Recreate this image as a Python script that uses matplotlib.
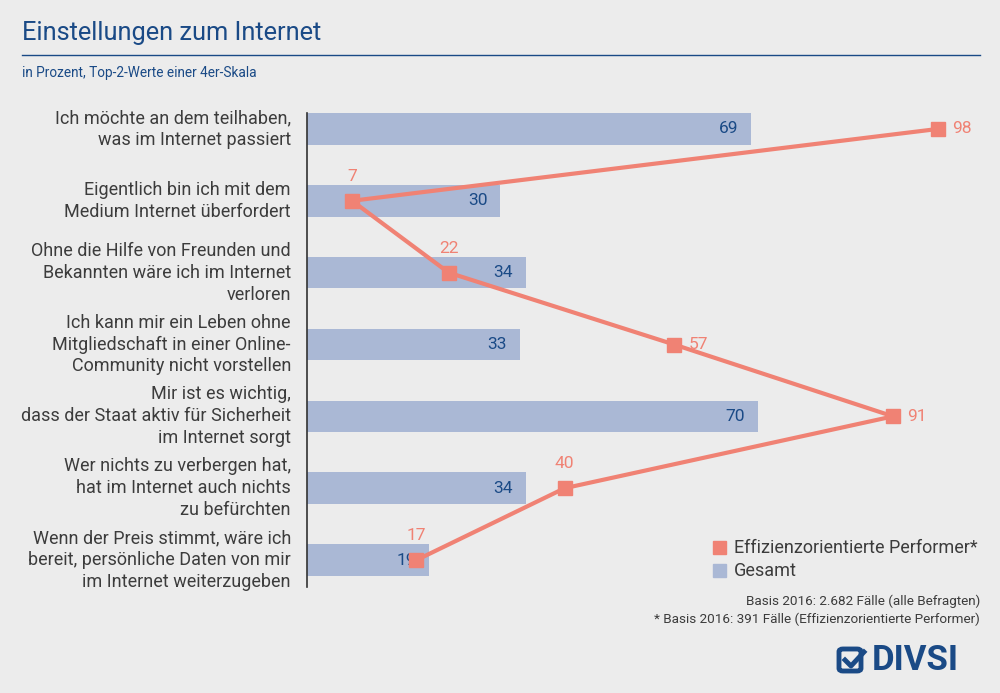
import matplotlib.pyplot as plt
from matplotlib.patches import FancyBboxPatch

plt.rcParams['font.family'] = ['Roboto', 'DejaVu Sans']

categories = [
    'Ich möchte an dem teilhaben,\nwas im Internet passiert',
    'Eigentlich bin ich mit dem\nMedium Internet überfordert',
    'Ohne die Hilfe von Freunden und\nBekannten wäre ich im Internet\nverloren',
    'Ich kann mir ein Leben ohne\nMitgliedschaft in einer Online-\nCommunity nicht vorstellen',
    'Mir ist es wichtig,\ndass der Staat aktiv für Sicherheit\nim Internet sorgt',
    'Wer nichts zu verbergen hat,\nhat im Internet auch nichts\nzu befürchten',
    'Wenn der Preis stimmt, wäre ich\nbereit, persönliche Daten von mir\nim Internet weiterzugeben',
]
gesamt = [69, 30, 34, 33, 70, 34, 19]
performer = [98, 7, 22, 57, 91, 40, 17]
# where the performer labels go: right of marker or above it
label_side = ['right', 'above', 'above', 'right', 'right', 'above', 'above']

bg = '#ececec'
bar_col = '#aab8d5'
line_col = '#f08274'
blue = '#1a4a86'
grey = '#3c3c3c'

fig = plt.figure(figsize=(10, 6.93), dpi=100, facecolor=bg)

# axes placed in pixel terms: x=0 at 307px, 6.44px per unit
W, H = 1000, 693
ax = fig.add_axes([307 / W, 1 - 596 / H, 644 / W, 503 / H])
ax.set_facecolor(bg)
ax.set_xlim(0, 100)
ax.set_ylim(6.5, -0.5)

ys = list(range(len(categories)))
ax.barh(ys, gesamt, height=0.44, color=bar_col, zorder=1)
for y, v in zip(ys, gesamt):
    ax.text(v - 2.0, y, str(v), ha='right', va='center', fontsize=12.5,
            color=blue, zorder=2)

ax.plot(performer, ys, color=line_col, lw=3, marker='s', markersize=9.5,
        zorder=3)
for y, v, s in zip(ys, performer, label_side):
    if s == 'right':
        ax.text(v + 2.2, y, str(v), ha='left', va='center', fontsize=12.5,
                color=line_col, zorder=4)
    else:
        ax.text(v, y - 0.34, str(v), ha='center', va='center', fontsize=12.5,
                color=line_col, zorder=4)

for y, c in zip(ys, categories):
    ax.text(-2.5, y, c, ha='right', va='center', fontsize=13, color=grey,
            linespacing=1.28)

for s in ['top', 'right', 'bottom']:
    ax.spines[s].set_visible(False)
ax.spines['left'].set_color('#333333')
ax.spines['left'].set_linewidth(1.2)
ax.spines['left'].set_bounds(-0.22, 6.38)
ax.set_xticks([])
ax.set_yticks([])

# title and header
fig.text(22 / W, 1 - 33 / H, 'Einstellungen zum Internet', fontsize=18.3,
         color=blue, ha='left', va='center')
fig.add_artist(plt.Line2D([22 / W, 980 / W], [1 - 55 / H, 1 - 55 / H],
                          color=blue, lw=1))
fig.text(22 / W, 1 - 73 / H, 'in Prozent, Top-2-Werte einer 4er-Skala',
         fontsize=9.8, color=blue, ha='left', va='center')

# legend
for yy, col, lab in [(548, line_col, 'Effizienzorientierte Performer*'),
                     (571, bar_col, 'Gesamt')]:
    fig.add_artist(plt.Rectangle((713 / W, 1 - (yy + 6) / H), 13 / W, 13 / H,
                                 color=col))
    fig.text(734 / W, 1 - yy / H, lab, fontsize=13, color=grey,
             ha='left', va='center')

fig.text(980 / W, 1 - 601 / H, 'Basis 2016: 2.682 Fälle (alle Befragten)',
         fontsize=9.7, color=grey, ha='right', va='center')
fig.text(980 / W, 1 - 619 / H,
         '* Basis 2016: 391 Fälle (Effizienzorientierte Performer)',
         fontsize=9.7, color=grey, ha='right', va='center')

# logo
fig.add_artist(FancyBboxPatch((839 / W, 1 - 671 / H), 22 / W, 22 / H,
                              boxstyle='round,pad=0,rounding_size=0.004',
                              fill=False, ec=blue, lw=3.5))
fig.add_artist(plt.Line2D([845 / W, 851 / W, 864 / W],
                          [1 - 660 / H, 1 - 666 / H, 1 - 652 / H],
                          color=blue, lw=3.5))
fig.text(872 / W, 1 - 660 / H, 'DIVSI', fontsize=25, fontweight='bold',
         color=blue, ha='left', va='center')

fig.savefig('out.png', dpi=100, facecolor=bg)
